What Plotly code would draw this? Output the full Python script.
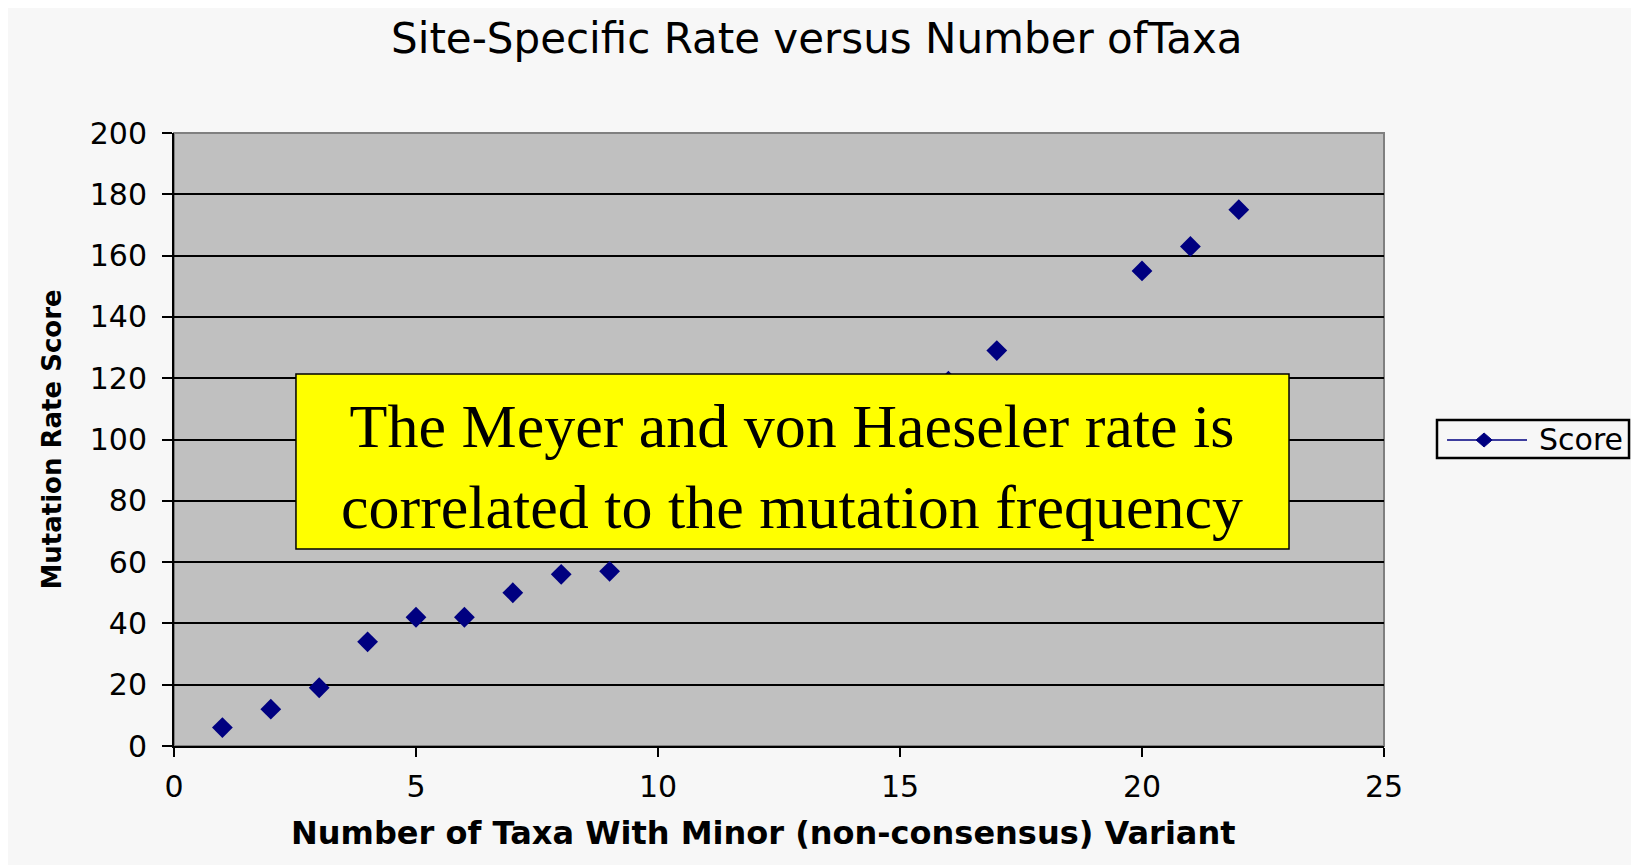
import plotly.graph_objects as go

# values
taxa = [1, 2, 3, 4, 5, 6, 7, 8, 9, 16, 17, 20, 21, 22]
score = [6, 12, 19, 34, 42, 42, 50, 56, 57, 119, 129, 155, 163, 175]

x_ticks = [0, 5, 10, 15, 20, 25]
y_ticks = [0, 20, 40, 60, 80, 100, 120, 140, 160, 180, 200]

NAVY = "#000080"

fig = go.Figure()

fig.add_trace(go.Scatter(
    x=taxa, y=score, mode="markers", name="Score", showlegend=False,
    marker=dict(symbol="diamond", size=16, color=NAVY),
))

# hand-drawn legend key, Excel style: line with a diamond in the middle
leg_x0, leg_x1, leg_y0, leg_y1 = 1.0438, 1.2025, 0.4698, 0.5318
key_y = 0.4992
diamond = "M -8,0 L 0,7 L 8,0 L 0,-7 Z"

fig.update_layout(
    width=1639, height=865,
    margin=dict(l=166, r=263, t=125, b=127),
    paper_bgcolor="#f7f7f7",
    plot_bgcolor="#c0c0c0",
    showlegend=False,
    title=dict(
        text="Site-Specific Rate versus Number ofTaxa",
        x=0.4935, xanchor="center", y=0.9645, yanchor="middle",
        font=dict(family="DejaVu Sans", size=42, color="black"),
    ),
    xaxis=dict(
        range=[0, 25], tickvals=x_ticks, showgrid=False, zeroline=False,
        showline=True, linecolor="black", linewidth=2, automargin=False,
        ticks="outside", ticklen=9, tickwidth=2, tickcolor="black",
        ticklabelstandoff=4,
        tickfont=dict(family="DejaVu Sans", size=30, color="black"),
    ),
    yaxis=dict(
        range=[0, 200], tickvals=y_ticks, showgrid=True,
        gridcolor="black", gridwidth=2, zeroline=False, automargin=False,
        showline=True, linecolor="black", linewidth=2,
        ticks="outside", ticklen=10, tickwidth=2, tickcolor="black",
        ticklabelstandoff=9,
        tickfont=dict(family="DejaVu Sans", size=30, color="black"),
        title=dict(text="<b>Mutation Rate Score</b>",
                   font=dict(family="DejaVu Sans", size=26, color="black"),
                   standoff=21),
    ),
    shapes=[
        dict(type="rect", xref="x domain", yref="y domain", layer="below",
             x0=0, x1=1, y0=0, y1=1,
             fillcolor="#c0c0c0", line=dict(color="#808080", width=2)),
        # yellow call-out box
        dict(type="rect", xref="paper", yref="paper", layer="above",
             x0=0.1008, x1=0.9215, y0=0.3214, y1=0.6069,
             fillcolor="#ffff00", line=dict(color="black", width=1.5)),
        # legend box and key
        dict(type="rect", xref="paper", yref="paper",
             x0=leg_x0, x1=leg_x1, y0=leg_y0, y1=leg_y1,
             fillcolor="#f7f7f7", line=dict(color="black", width=2.5)),
        dict(type="line", xref="paper", yref="paper",
             x0=1.0521, x1=1.1182, y0=key_y, y1=key_y,
             line=dict(color=NAVY, width=1.5)),
        dict(type="path", xref="paper", yref="paper",
             xsizemode="pixel", ysizemode="pixel", xanchor=1.0827, yanchor=key_y,
             path=diamond, fillcolor=NAVY, line=dict(color=NAVY, width=1)),
    ],
    annotations=[
        dict(
            text="The Meyer and von Haeseler rate is<br>correlated to the mutation frequency",
            xref="paper", yref="paper", x=0.5111, y=0.456,
            xanchor="center", yanchor="middle", showarrow=False,
            font=dict(family="Liberation Serif", size=62, color="black"),
        ),
        dict(
            text="Score", xref="paper", yref="paper", x=1.1265, y=key_y,
            xanchor="left", yanchor="middle", showarrow=False,
            font=dict(family="DejaVu Sans", size=30, color="black"),
        ),
        # x-axis title, placed like the original (slightly left of centre)
        dict(
            text="<b>Number of Taxa With Minor (non-consensus) Variant</b>",
            xref="paper", yref="paper", x=0.4868, y=-0.142,
            xanchor="center", yanchor="middle", showarrow=False,
            font=dict(family="DejaVu Sans", size=32, color="black"),
        ),
    ],
)

fig.write_html("out.html")
